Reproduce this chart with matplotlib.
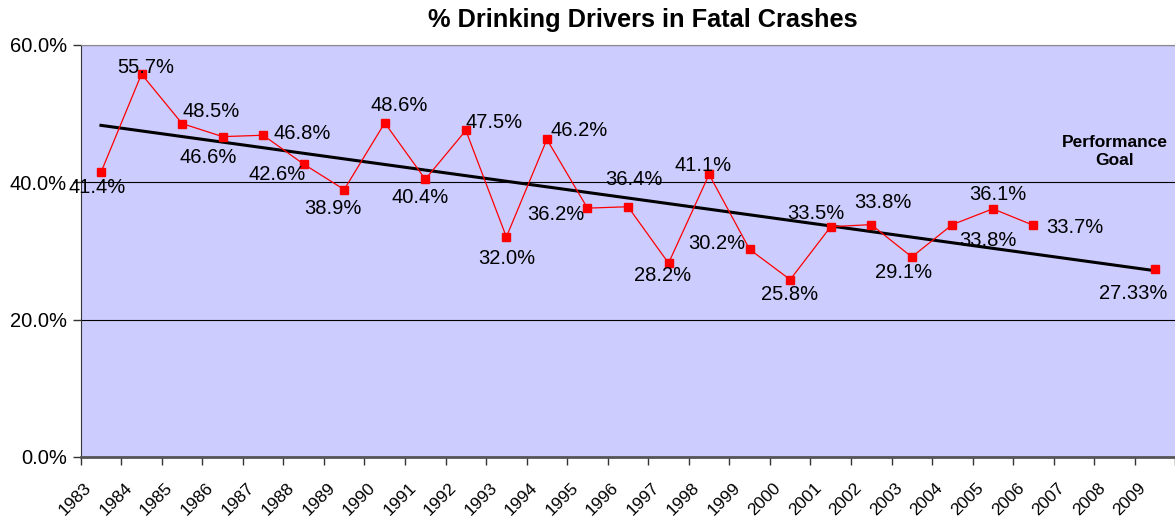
import numpy as np
import matplotlib
matplotlib.use("Agg")
import matplotlib.pyplot as plt
from matplotlib.ticker import FuncFormatter, FixedLocator

# Data (percent of drivers with alcohol in fatal crashes)
years = [str(y) for y in range(1983, 2010)]
pct = [41.4, 55.7, 48.5, 46.6, 46.8, 42.6, 38.9, 48.6, 40.4, 47.5, 32.0, 46.2,
       36.2, 36.4, 28.2, 41.1, 30.2, 25.8, 33.5, 33.8, 29.1, 33.8, 36.1, 33.7,
       None, None, None]
goal_year = "2009"
goal_pct = 27.33

# label placement (pixel offsets from marker, +x right, +y up)
label_off = [(-4, -15), (4, 7), (29, 12), (-14, -21), (39, 2), (-27, -10),
             (-11, -19), (14, 17), (-5, -18), (28, 8), (0, -21), (32, 9),
             (-32, -6), (6, 27), (-6, -12), (-6, 9), (-33, 6), (-1, -15),
             (-15, 13), (12, 22), (-8, -16), (36, -16), (5, 14), (41, -2)]
goal_off = (-22, -24)

plt.rcParams['font.family'] = ['Liberation Sans', 'DejaVu Sans']

fig = plt.figure(figsize=(11.75, 5.2), dpi=100)
ax = fig.add_axes([80.7 / 1175, 1 - 457 / 520, 1094.6 / 1175, 412.5 / 520])
ax.set_facecolor('#CCCCFF')

x = np.arange(len(years))
y = np.array([np.nan if v is None else v for v in pct])
gi = years.index(goal_year)

# linear trendline over all plotted points (incl. the goal)
xs = np.append(x[~np.isnan(y)], gi)
ys = np.append(y[~np.isnan(y)], goal_pct)
k, b = np.polyfit(xs, ys, 1)
ax.plot([0, gi], [b, k * gi + b], color='black', lw=2.2, zorder=3)

ax.plot(x, y, color='#FF0000', lw=0.9, marker='s', ms=6, mec='#FF0000',
        mfc='#FF0000', zorder=4)
ax.plot([gi], [goal_pct], ls='none', marker='s', ms=6, color='#FF0000', zorder=4)

for i, v in enumerate(pct):
    if v is None:
        continue
    dx, dy = label_off[i]
    ax.annotate(f"{v:.1f}%", (i, v), xytext=(dx, dy), textcoords='offset pixels',
                ha='center', va='center', fontsize=14.5, color='black', zorder=5)
ax.annotate(f"{goal_pct:.2f}%", (gi, goal_pct), xytext=goal_off,
            textcoords='offset pixels', ha='center', va='center', fontsize=14.5,
            zorder=5)

ax.text(1115 / 1175, 1 - 151 / 520, "Performance\nGoal", transform=fig.transFigure,
        ha='center', va='center', fontsize=12.5, fontweight='bold',
        linespacing=1.25)

ax.set_xlim(-0.5, len(years) - 0.5)
ax.set_ylim(0, 60)
ax.yaxis.set_major_locator(FixedLocator([0, 20, 40, 60]))
ax.yaxis.set_major_formatter(FuncFormatter(lambda v, p: f"{v:.1f}%"))
ax.tick_params(axis='y', direction='out', length=6, width=1, color='#333333',
               labelsize=14.5, pad=4)

# tick marks on category boundaries, year labels hung under each category
ax.set_xticks(np.arange(len(years) + 1) - 0.5)
ax.set_xticklabels([])
ax.tick_params(axis='x', which='major', direction='out', length=6, width=1,
               color='#333333')
for i, yr in enumerate(years):
    ax.annotate(yr, (i, 0), xycoords=('data', 'axes fraction'),
                xytext=(-17, -23), textcoords='offset pixels',
                ha='right', va='top', rotation=45, rotation_mode='anchor',
                fontsize=12.5, annotation_clip=False)

ax.grid(axis='y', color='black', lw=0.8)
ax.set_axisbelow(True)
ax.spines['left'].set_color('#333333')
ax.spines['bottom'].set_color('#555555')
ax.spines['bottom'].set_linewidth(2)
ax.spines['top'].set_color('#888888')
ax.spines['right'].set_visible(False)

fig.text(643 / 1175, 1 - 20 / 520, "% Drinking Drivers in Fatal Crashes",
         ha='center', va='center', fontsize=18.3, fontweight='bold')

fig.savefig("out.png", dpi=100)
